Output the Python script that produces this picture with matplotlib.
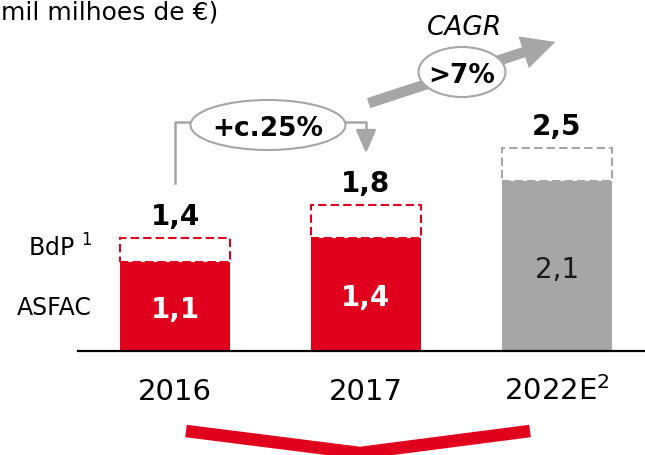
import matplotlib
matplotlib.use('Agg')
import matplotlib.pyplot as plt
from matplotlib.patches import Ellipse

# data (mil milhoes de euros)
years = ['2016', '2017', '2022E$^2$']
asfac = [1.1, 1.4, 2.1]
total = [1.4, 1.8, 2.5]
asfac_labels = ['1,1', '1,4', '2,1']
total_labels = ['1,4', '1,8', '2,5']
growth_label = '+c.25%'
cagr_label = '>7%'

RED = '#e0001e'
GREY = '#a6a6a6'
bar_colors = [RED, RED, GREY]
inner_colors = ['white', 'white', '#1a1a1a']
inner_weight = ['bold', 'bold', 'normal']

plt.rcParams['font.family'] = ['DejaVu Sans']

fig = plt.figure(figsize=(6.45, 4.55), dpi=100)
ax = fig.add_axes([0, 0, 1, 1])

# map figure pixels onto data units: bars one unit apart, 81 px per unit of value
X0, DX = 175, 191
Y0, DY = 351, 81
ax.set_xlim(-X0 / DX, (645 - X0) / DX)
ax.set_ylim(-(455 - Y0) / DY, Y0 / DY)
ax.axis('off')


def px(x):
    return (x - X0) / DX


def py(y):
    return (Y0 - y) / DY


xs = range(len(years))
w = 110 / DX
ax.bar(xs, asfac, width=w, color=bar_colors, zorder=2)
ax.bar(xs, [t - a for t, a in zip(total, asfac)], bottom=asfac, width=w,
       fill=False, edgecolor=bar_colors, linestyle=(0, (4, 2)), linewidth=1.5, zorder=2)

ax.plot([px(78), px(645)], [0, 0], color='black', lw=1.6, zorder=3)

for i in xs:
    ax.text(i, total[i] + 13 / DY, total_labels[i], ha='center', va='baseline',
            fontsize=20, fontweight='bold', color='black')
    ax.text(i, asfac[i] / 2 - 12 / DY, asfac_labels[i], ha='center', va='baseline',
            fontsize=20, fontweight=inner_weight[i], color=inner_colors[i], zorder=4)
    ax.text(i, py(400), years[i], ha='center', va='baseline', fontsize=21)

ax.text(px(92), py(315), 'ASFAC', ha='right', va='baseline', fontsize=17)
ax.text(px(92), py(257), 'BdP $^1$', ha='right', va='baseline', fontsize=17)

ax.text(px(1), py(20), 'mil milhoes de €)', ha='left', va='baseline', fontsize=18)

# +c.25% connector
ax.plot([0, 0, px(192)], [py(183), py(122), py(122)], color=GREY, lw=1.8)
ax.plot([px(344), 1, 1], [py(122), py(122), py(140)], color=GREY, lw=1.8)
ax.annotate('', xy=(1, py(156)), xytext=(1, py(138)),
            arrowprops=dict(arrowstyle='-|>,head_width=0.35,head_length=0.8',
                            color=GREY, lw=1.8, mutation_scale=18))
ax.add_patch(Ellipse((px(268), py(125)), 155 / DX, 50 / DY, facecolor='white',
                     edgecolor=GREY, lw=1.5, zorder=5))
ax.text(px(268), py(136), growth_label, ha='center', va='baseline', fontsize=19,
        fontweight='bold', zorder=6)

# CAGR arrow
ax.annotate('', xy=(px(558), py(41)), xytext=(px(366), py(104)),
            arrowprops=dict(arrowstyle='simple,head_width=1.2,head_length=1.2,tail_width=0.38',
                            color=GREY, lw=0, mutation_scale=20))
ax.add_patch(Ellipse((px(462), py(72)), 87 / DX, 50 / DY, facecolor='white',
                     edgecolor=GREY, lw=1.5, zorder=5))
ax.text(px(462), py(83), cagr_label, ha='center', va='baseline', fontsize=19,
        fontweight='bold', zorder=6)
ax.text(px(465), py(35), 'CAGR', ha='center', va='baseline', fontsize=19, style='italic')

# red chevron at the bottom
ax.plot([px(186), px(360), px(530)], [py(431), py(453), py(431)], color=RED, lw=9,
        solid_joinstyle='miter', solid_capstyle='butt', clip_on=False)

fig.savefig('out.png', dpi=100)
